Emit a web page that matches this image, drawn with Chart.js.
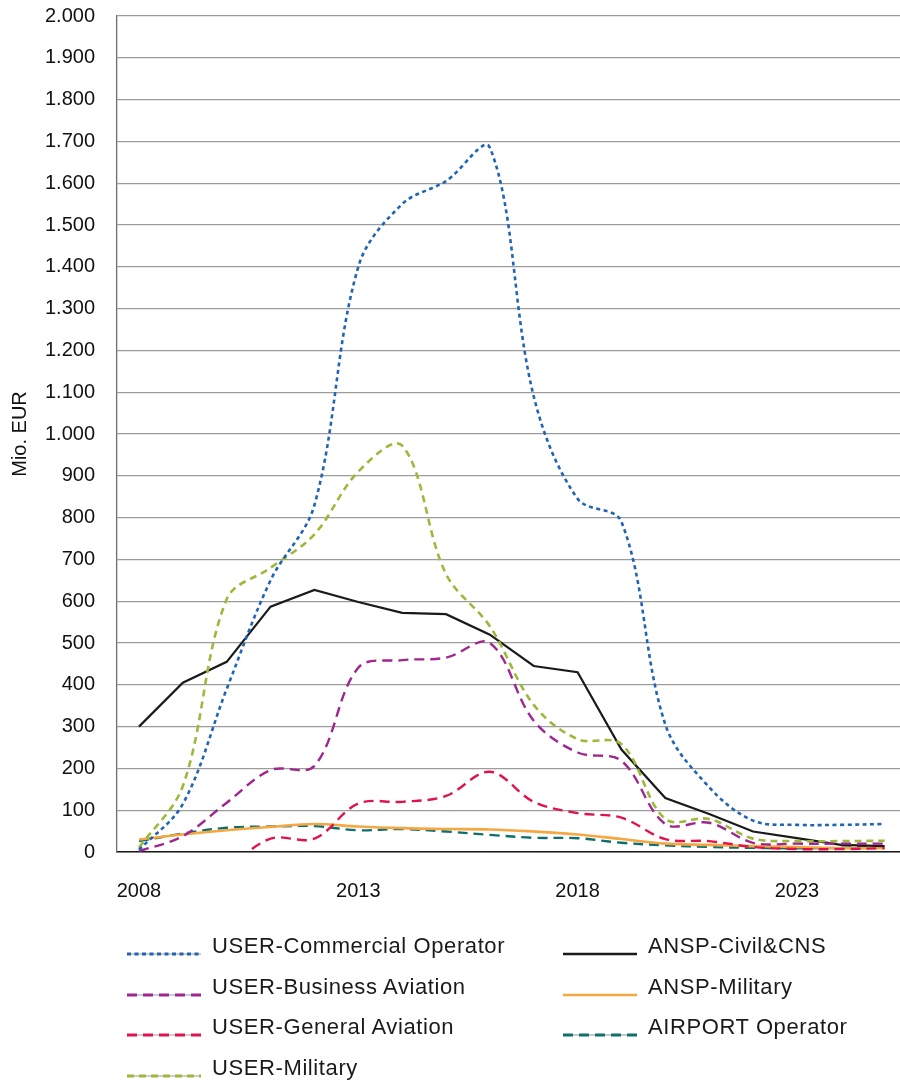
<!DOCTYPE html>
<html>
<head>
<meta charset="utf-8">
<script src="https://cdn.jsdelivr.net/npm/chart.js@4.4.1/dist/chart.umd.min.js"></script>
<style>
  html, body { margin: 0; padding: 0; background: #fff; }
  #wrap { position: relative; width: 900px; height: 1080px; overflow: hidden; }
  #cost-chart { position: absolute; left: 0; top: -18px; }
  .legend-item { position: absolute; height: 40px; }
  .legend-item canvas { position: absolute; left: 0; top: 0; }
  .legend-item span {
    position: absolute; top: 0; line-height: 40px; white-space: nowrap;
    font-family: 'Liberation Sans', Arial, Helvetica, sans-serif;
    font-size: 22px; letter-spacing: 0.6px; color: #1a1a1a;
  }
</style>
</head>
<body>
<div id="wrap">
  <canvas id="cost-chart" width="900" height="956"></canvas>
  <div id="legend"></div>
</div>
<script>
const years = [2008, 2009, 2010, 2011, 2012, 2013, 2014, 2015, 2016, 2017, 2018, 2019, 2020, 2021, 2022, 2023, 2024, 2025];
const xTicks = [2008, 2013, 2018, 2023];

const commercialOperator = [5, 115, 390, 650, 830, 1400, 1550, 1605, 1685, 1090, 845, 790, 305, 155, 75, 65, 65, 67];
const businessAviation = [2, 38, 118, 196, 206, 441, 459, 465, 500, 314, 238, 218, 67, 70, 22, 20, 20, 20];
const generalAviation = [null, null, -40, 32, 32, 116, 120, 134, 192, 120, 93, 82, 31, 26, 12, 7, 7, 9];
const userMilitary = [10, 158, 605, 680, 760, 910, 972, 665, 540, 352, 270, 258, 79, 79, 32, 26, 26, 27];
const ansspCivil = [300, 405, 455, 587, 627, 598, 572, 569, 520, 445, 430, 245, 129, 91, 49, 33, 17, 14];
const ansspMilitary = [30, 42, 52, 60, 67, 61, 57, 55, 54, 49, 42, 31, 20, 17, 14, 12, 9, 9];
const airportOperator = [26, 44, 58, 61, 62, 52, 55, 49, 41, 34, 33, 22, 16, 12, 10, 9, 10, 14];

const FONT = "'Liberation Sans', Arial, Helvetica, sans-serif";

const toPoints = (values) => years.map((year, i) => ({ x: year, y: values[i] }));

// thousands separator as a dot: 1.000, 2.000
const formatEur = (v) => (v >= 1000 ? Math.floor(v / 1000) + '.' + String(v % 1000).padStart(3, '0') : String(v));

const series = [
  { label: 'USER-Commercial Operator', data: commercialOperator, color: '#1f65b4', dash: [4, 3.5], width: 2.6, tension: 0.35 },
  { label: 'USER-Business Aviation', data: businessAviation, color: '#a0268f', dash: [10, 6], width: 2.4, tension: 0.35 },
  { label: 'USER-General Aviation', data: generalAviation, color: '#e0144c', dash: [10, 6], width: 2.4, tension: 0.35 },
  { label: 'USER-Military', data: userMilitary, color: '#9db83a', dash: [7, 5], width: 2.6, tension: 0.35 },
  { label: 'ANSP-Civil&CNS', data: ansspCivil, color: '#1a1a1a', dash: [], width: 2.2, tension: 0 },
  { label: 'ANSP-Military', data: ansspMilitary, color: '#f5a742', dash: [], width: 2.6, tension: 0.35 },
  { label: 'AIRPORT Operator', data: airportOperator, color: '#0f6e6e', dash: [10, 6], width: 2.4, tension: 0.35 },
];

const ctx = document.getElementById('cost-chart').getContext('2d');

const config = {
  type: 'line',
  data: {
    datasets: series.map((s) => ({
      label: s.label,
      data: toPoints(s.data),
      borderColor: s.color,
      backgroundColor: s.color,
      borderWidth: s.width,
      borderDash: s.dash,
      tension: s.tension,
      pointRadius: 0,
      fill: false,
      spanGaps: false,
    })),
  },
  options: {
    responsive: false,
    animation: false,
    layout: {
      padding: { top: 15, right: 0, bottom: 8, left: 8 },
    },
    plugins: {
      legend: { display: false },
      tooltip: { enabled: false },
    },
    scales: {
      x: {
        type: 'linear',
        min: 2007.5,
        max: 2025.35,
        afterBuildTicks: (axis) => {
          axis.ticks = xTicks.map((v) => ({ value: v }));
        },
        ticks: {
          callback: (v) => String(v),
          font: { size: 20, family: FONT },
          color: '#111',
          padding: 27,
          maxRotation: 0,
        },
        grid: { display: false, drawTicks: false },
        border: { display: true, color: '#1a1a1a', width: 1.6 },
      },
      y: {
        min: 0,
        max: 2000,
        ticks: {
          stepSize: 100,
          callback: (v) => formatEur(v),
          font: { size: 20, family: FONT },
          color: '#111',
          padding: 22,
        },
        title: {
          display: true,
          text: 'Mio. EUR',
          font: { size: 20, family: FONT },
          color: '#111',
          padding: { top: 0, bottom: -9 },
        },
        grid: { color: '#9c9c9c', lineWidth: 1.3, drawTicks: false },
        border: { display: true, color: '#6e6e6e', width: 1.3 },
      },
    },
  },
};

const chart = new Chart(ctx, config);

// two-column legend below the plot
const legendEl = document.getElementById('legend');
const legendCols = [127, 563];
chart.data.datasets.forEach((ds, i) => {
  const col = i < 4 ? 0 : 1;
  const row = i < 4 ? i : i - 4;
  const item = document.createElement('div');
  item.className = 'legend-item';
  item.style.left = legendCols[col] + 'px';
  item.style.top = 926 + row * 40.7 + 'px';

  const sample = document.createElement('canvas');
  sample.width = 76;
  sample.height = 40;
  const sctx = sample.getContext('2d');
  if (ds.borderDash.length) {
    sctx.strokeStyle = '#9a9a9a';
    sctx.lineWidth = 1;
    sctx.beginPath();
    sctx.moveTo(0, 28);
    sctx.lineTo(74, 28);
    sctx.stroke();
  }
  sctx.strokeStyle = ds.borderColor;
  sctx.lineWidth = ds.borderDash.length ? 3 : 2.4;
  sctx.setLineDash(ds.borderDash);
  sctx.beginPath();
  sctx.moveTo(0, 28);
  sctx.lineTo(74, 28);
  sctx.stroke();

  const text = document.createElement('span');
  text.style.left = '85px';
  text.textContent = ds.label;

  item.appendChild(sample);
  item.appendChild(text);
  legendEl.appendChild(item);
});
</script>
</body>
</html>
